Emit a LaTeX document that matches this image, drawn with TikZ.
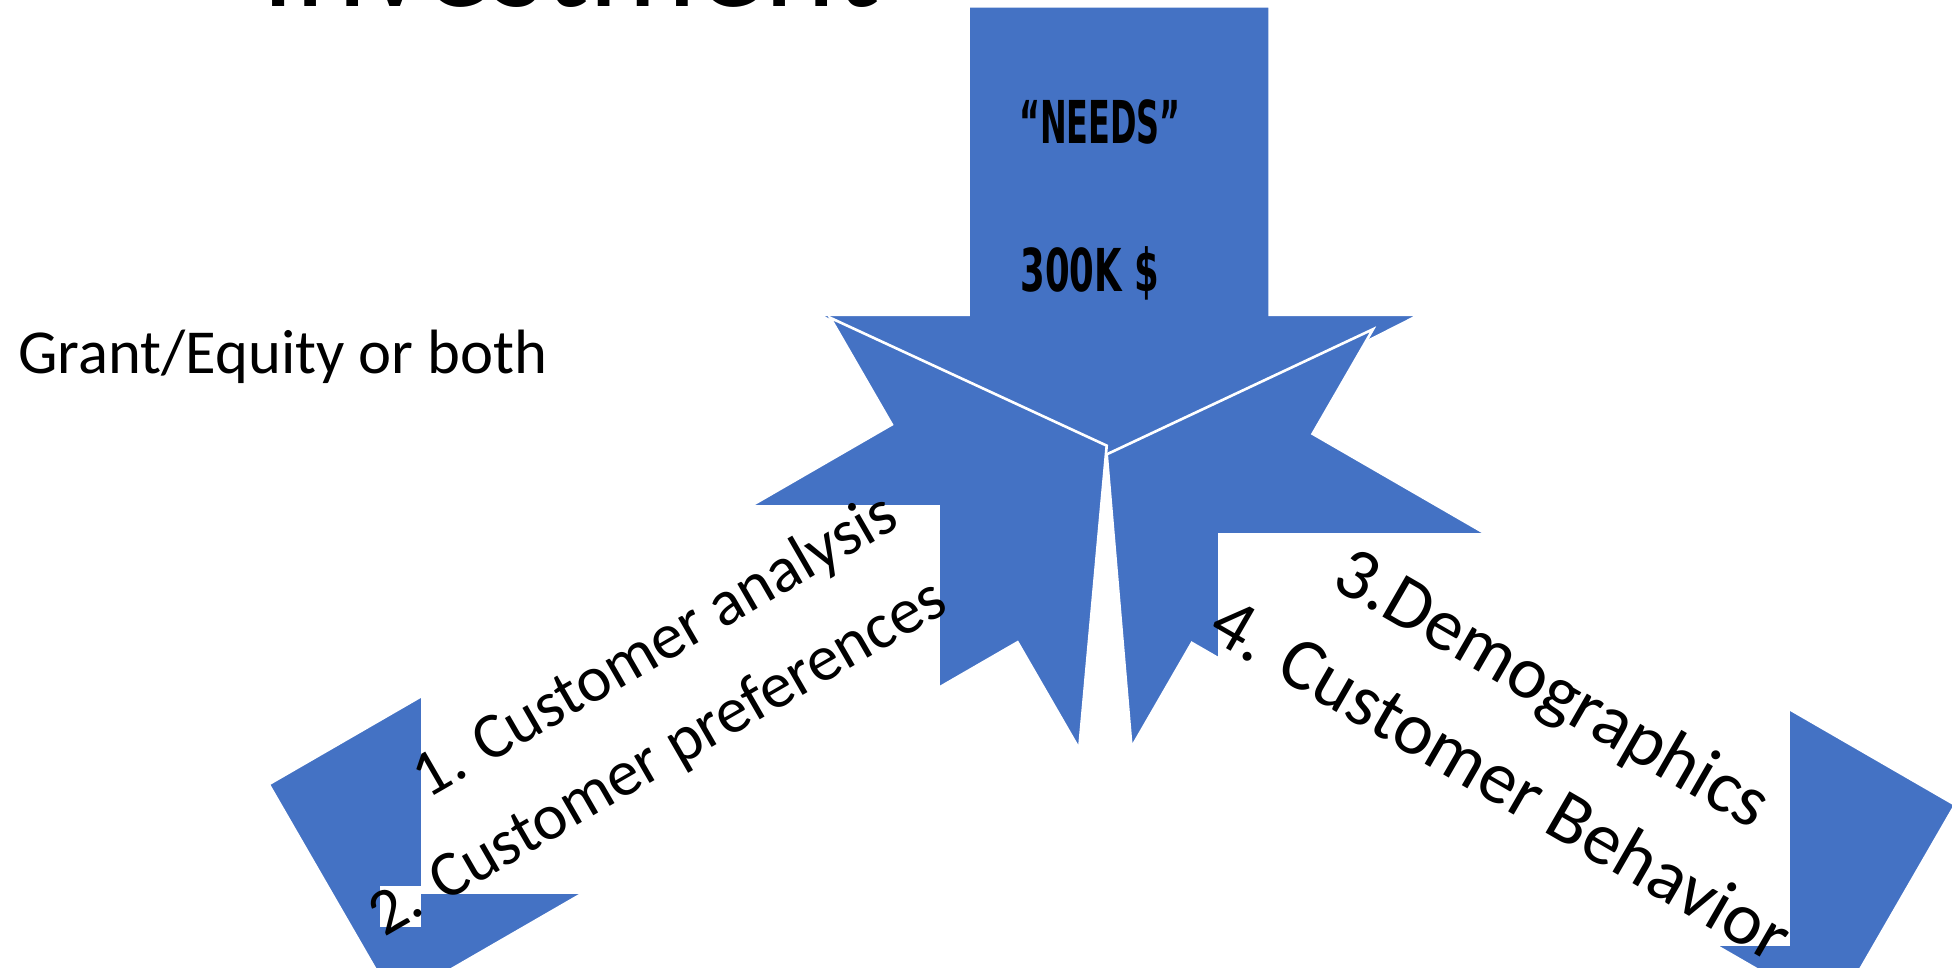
\documentclass[tikz,border=0pt]{standalone}
\usepackage{fontspec}
\usepackage{graphicx}
\setmainfont{Carlito}
\newfontfamily\needsfont{DejaVu Sans}
\definecolor{officeblue}{HTML}{4472C4}
\tikzset{
  blockarrow/.style = {fill = officeblue, draw = white, line width = 0.6pt},
  textpatch/.style = {fill = white},
  plain/.style = {inner sep = 0},
}

\begin{document}
\begin{tikzpicture}[x = 0.01cm, y = 0.01cm]
  \useasboundingbox (0,0) rectangle (1568,777);

  % arrow coming down from the top
  \draw[blockarrow] (778,772) -- (1020,772) -- (1020,524) -- (1140,524) -- (899,402) -- (658,524) -- (778,524) -- cycle;

  % arrow from the lower right
  \begin{scope}[shift = {(889,412)}, rotate = 150]
    \draw[blockarrow] (0,0) -- (-135,194) -- (-135,97) -- (-731,97) -- (-731,-97) -- (-135,-97) -- (-135,-194) -- cycle;
  \end{scope}

  % arrow from the lower left
  \begin{scope}[shift = {(889,419)}, rotate = 30]
    \draw[blockarrow] (0,0) -- (-141,200) -- (-141,101) -- (-719,101) -- (-719,-101) -- (-141,-101) -- (-141,-200) -- cycle;
  \end{scope}

  % white text boxes
  \fill[textpatch] (338,59) rectangle (755,371);
  \fill[textpatch] (305,32) rectangle (338,65);
  \fill[textpatch] (978,17) rectangle (1438,349);

  \node[plain, anchor = base west, font = \fontsize{31}{37}\selectfont] (title) at (209,772) {Investment};
  \node[plain, anchor = base west, font = \fontsize{14.3}{17}\selectfont] (funding) at (14,477) {Grant/Equity or both};

  \node[plain, anchor = base west, font = \needsfont\bfseries\fontsize{13.5}{16}\selectfont] (needs) at (818,662) {\scalebox{0.54}[1]{“NEEDS”}};
  \node[plain, anchor = base west, font = \needsfont\bfseries\fontsize{13.5}{16}\selectfont] (amount) at (819,543) {\scalebox{0.6}[1]{300K \$}};

  \node[plain, anchor = base east, rotate = 30, font = \fontsize{14.9}{18}\selectfont] (analysis) at (725,355) {1. Customer analysis};
  \node[plain, anchor = base east, rotate = 30, font = \fontsize{14.9}{18}\selectfont] (preferences) at (764,287) {2. Customer preferences};

  \node[plain, anchor = base, rotate = -30, font = \fontsize{17}{20}\selectfont] (demographics) at (1238,208) {3.Demographics};
  \node[plain, anchor = base, rotate = -30, font = \fontsize{17}{20}\selectfont] (behavior) at (1196,134) {4. Customer Behavior};
\end{tikzpicture}
\end{document}
